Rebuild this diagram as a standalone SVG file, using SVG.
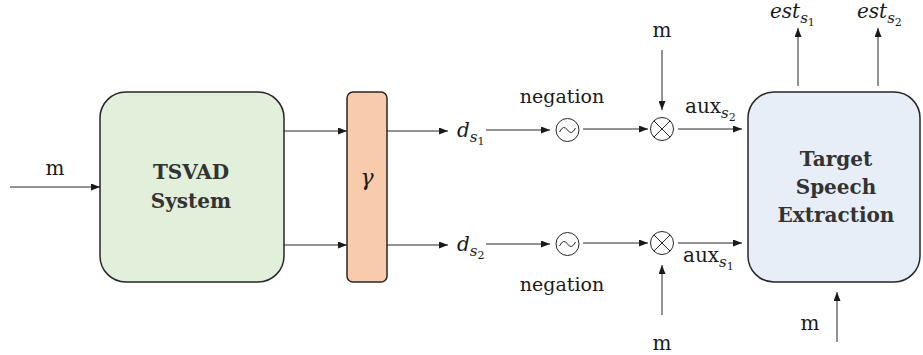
<svg xmlns="http://www.w3.org/2000/svg" width="923" height="355" viewBox="0 0 923 355">
<style>
.box{stroke:#262626;stroke-width:1.5}
.ln{stroke:#262626;stroke-width:1;fill:none}
.b{font-weight:bold;fill:#333;text-anchor:middle;font-size:20px}
.i{font-style:italic}
</style>
<defs>
<marker id="ah" markerWidth="9" markerHeight="7" refX="9" refY="3.5" orient="auto" markerUnits="userSpaceOnUse">
<path d="M0,0 L9,3.5 L0,7 z" fill="#1a1a1a"/>
</marker>
</defs>
<rect width="923" height="355" fill="#fff"/>
<g font-family="DejaVu Serif, serif" font-size="20" fill="#1a1a1a">
<g id="tsvad">
<rect class="box" x="100" y="92" width="184" height="190" rx="26" fill="#E2EFDA"/>
<text class="b" x="191" y="179">TSVAD</text>
<text class="b" x="191" y="208">System</text>
</g>
<g id="gamma">
<rect class="box" x="347" y="92" width="40" height="190" rx="6" fill="#F8CBAD"/>
<text class="i" x="367" y="185" text-anchor="middle" font-size="22">γ</text>
</g>
<g id="tse">
<rect class="box" x="748" y="92" width="172" height="190" rx="26" fill="#E8EEF8"/>
<text class="b" x="836" y="166">Target</text>
<text class="b" x="836" y="194">Speech</text>
<text class="b" x="836" y="222">Extraction</text>
</g>
<g id="neg1">
<circle class="ln" cx="567.5" cy="130" r="11.5"/>
<path class="ln" stroke-width="1.3" d="M559.5,132 q4,-8 8,-2 t8,-2"/>
<text x="562" y="103" text-anchor="middle" font-size="19">negation</text>
</g>
<g id="neg2">
<circle class="ln" cx="567.5" cy="244" r="11.5"/>
<path class="ln" stroke-width="1.3" d="M559.5,246 q4,-8 8,-2 t8,-2"/>
<text x="562" y="291" text-anchor="middle" font-size="19">negation</text>
</g>
<g id="mul1">
<circle class="ln" cx="662" cy="129" r="11.5"/>
<path class="ln" d="M653.9,120.9 L670.1,137.1 M670.1,120.9 L653.9,137.1"/>
</g>
<g id="mul2">
<circle class="ln" cx="662" cy="243" r="11.5"/>
<path class="ln" d="M653.9,234.9 L670.1,251.1 M670.1,234.9 L653.9,251.1"/>
</g>
<g id="labels">
<text x="55" y="175" text-anchor="middle">m</text>
<text x="662" y="37" text-anchor="middle">m</text>
<text x="662" y="350" text-anchor="middle">m</text>
<text x="810" y="330" text-anchor="middle">m</text>
<text class="i" x="457" y="137">d<tspan font-size="15" dy="5">s</tspan><tspan font-size="11" font-style="normal" dy="3">1</tspan></text>
<text class="i" x="457" y="251">d<tspan font-size="15" dy="5">s</tspan><tspan font-size="11" font-style="normal" dy="3">2</tspan></text>
<text x="685" y="113">aux<tspan class="i" font-size="15" dy="5">s</tspan><tspan font-size="11" dy="3">2</tspan></text>
<text x="683" y="262">aux<tspan class="i" font-size="15" dy="5">s</tspan><tspan font-size="11" dy="3">1</tspan></text>
<text class="i" x="770" y="18">est<tspan font-size="15" dy="5">s</tspan><tspan font-size="11" font-style="normal" dy="3">1</tspan></text>
<text class="i" x="857" y="18">est<tspan font-size="15" dy="5">s</tspan><tspan font-size="11" font-style="normal" dy="3">2</tspan></text>
</g>
</g>
<g id="connectors">
<line class="ln" x1="10" y1="187" x2="100" y2="187" marker-end="url(#ah)"/>
<line class="ln" x1="284" y1="131" x2="347" y2="131" marker-end="url(#ah)"/>
<line class="ln" x1="284" y1="245" x2="347" y2="245" marker-end="url(#ah)"/>
<line class="ln" x1="387" y1="131" x2="448" y2="131" marker-end="url(#ah)"/>
<line class="ln" x1="387" y1="245" x2="448" y2="245" marker-end="url(#ah)"/>
<line class="ln" x1="486" y1="130" x2="550" y2="130" marker-end="url(#ah)"/>
<line class="ln" x1="486" y1="244" x2="550" y2="244" marker-end="url(#ah)"/>
<line class="ln" x1="583" y1="129" x2="648" y2="129" marker-end="url(#ah)"/>
<line class="ln" x1="583" y1="243" x2="648" y2="243" marker-end="url(#ah)"/>
<line class="ln" x1="662" y1="50" x2="662" y2="110" marker-end="url(#ah)"/>
<line class="ln" x1="662" y1="315" x2="662" y2="265" marker-end="url(#ah)"/>
<line class="ln" x1="678" y1="129" x2="742" y2="129" marker-end="url(#ah)"/>
<line class="ln" x1="678" y1="243" x2="742" y2="243" marker-end="url(#ah)"/>
<line class="ln" x1="798" y1="86" x2="798" y2="28" marker-end="url(#ah)"/>
<line class="ln" x1="878" y1="86" x2="878" y2="28" marker-end="url(#ah)"/>
<line class="ln" x1="837" y1="342" x2="837" y2="292" marker-end="url(#ah)"/>
</g>
</svg>
